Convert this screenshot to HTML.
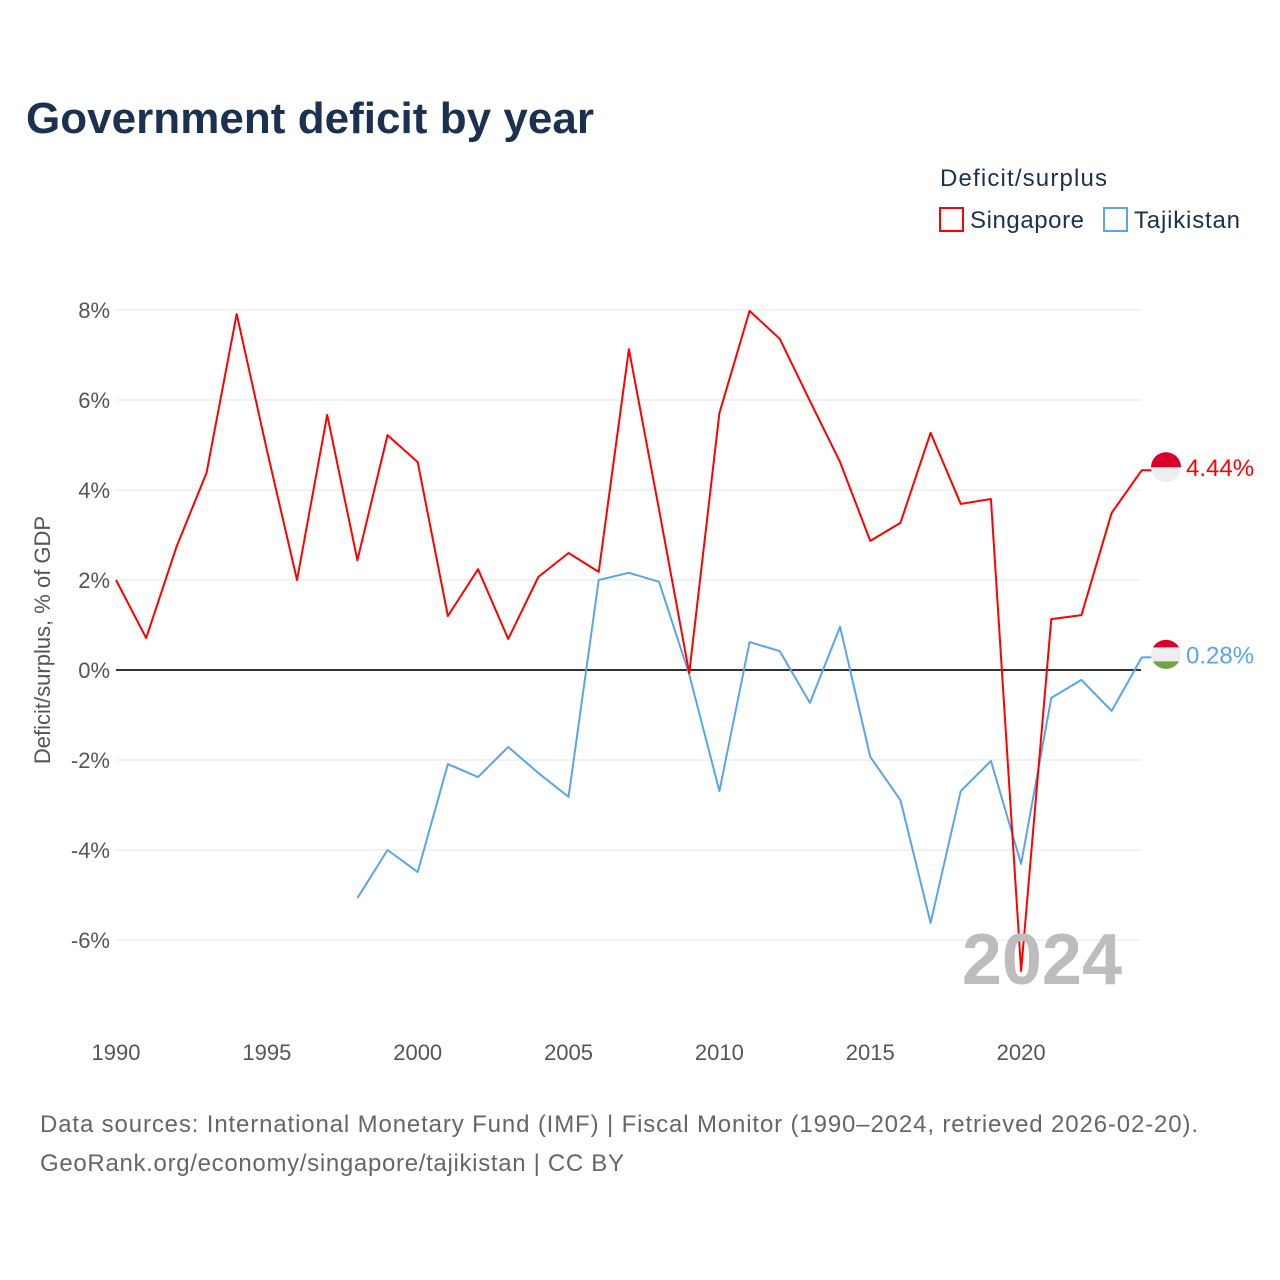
<!DOCTYPE html>
<html><head><meta charset="utf-8"><style>
body{margin:0;background:#fff;font-family:"Liberation Sans",sans-serif;}
#wrap{position:relative;width:1280px;height:1280px;overflow:hidden;}
</style></head><body>
<div id="wrap">
<svg id="chart" width="1280" height="1280">
<text x="26" y="133" font-size="44" font-weight="bold" fill="#1b3151" textLength="568">Government deficit by year</text>
<text x="940" y="186" font-size="24" fill="#1b3151" textLength="167">Deficit/surplus</text>
<g><rect x="940" y="208" width="23" height="23" fill="none" stroke="#f00" stroke-width="2"/><text x="970" y="228" font-size="24" fill="#1b3151" textLength="114">Singapore</text></g>
<g><rect x="1104" y="208" width="23" height="23" fill="none" stroke="#5aa5ea" stroke-width="2"/><text x="1134" y="228" font-size="24" fill="#1b3151" textLength="106">Tajikistan</text></g>
<text transform="translate(50,640) rotate(-90)" text-anchor="middle" font-size="22" fill="#555">Deficit/surplus, % of GDP</text>
<g id="grid"></g><g id="series"></g>
<text x="1122" y="984" text-anchor="end" font-size="72" font-weight="bold" fill="#bdbdbd">2024</text>
<text x="40" y="1132" font-size="24" fill="#666" textLength="1158">Data sources: International Monetary Fund (IMF) | Fiscal Monitor (1990–2024, retrieved 2026-02-20).</text>
<text x="40" y="1171" font-size="24" fill="#666" textLength="584">GeoRank.org/economy/singapore/tajikistan | CC BY</text>
</svg></div>
<script>
const years=[1990,1991,1992,1993,1994,1995,1996,1997,1998,1999,2000,2001,2002,2003,2004,2005,2006,2007,2008,2009,2010,2011,2012,2013,2014,2015,2016,2017,2018,2019,2020,2021,2022,2023,2024];
const singapore=[2.0,0.71,2.73,4.38,7.91,4.89,2.0,5.67,2.44,5.22,4.62,1.2,2.24,0.69,2.07,2.6,2.18,7.13,3.56,-0.07,5.71,7.98,7.36,5.98,4.62,2.87,3.27,5.27,3.69,3.8,-6.69,1.13,1.22,3.49,4.44];
const tajikistan=[null,null,null,null,null,null,null,null,-5.07,-4.0,-4.49,-2.09,-2.38,-1.71,-2.29,-2.82,2.0,2.16,1.96,-0.1,-2.69,0.62,0.42,-0.73,0.96,-1.93,-2.89,-5.62,-2.69,-2.02,-4.31,-0.62,-0.22,-0.91,0.28];
const yTicks=[-6,-4,-2,0,2,4,6,8];
const xTicks=[1990,1995,2000,2005,2010,2015,2020];
const NS="http://www.w3.org/2000/svg";
const X=y=>116+(y-1990)*30.17, Y=v=>670-v*45;
function mk(t,a,p){const e=document.createElementNS(NS,t);for(const k in a)e.setAttribute(k,a[k]);p.appendChild(e);return e;}
const grid=document.getElementById('grid'),ser=document.getElementById('series');
yTicks.forEach(v=>{
 const l=mk('line',{x1:116,x2:1141,y1:Y(v),y2:Y(v),stroke:v===0?'#333':'#e6e6e6','stroke-width':v===0?2:1},grid);
 
 
 const t=mk('text',{x:110,y:Y(v)+8,'text-anchor':'end','font-size':22,fill:'#555'},grid);t.textContent=v+'%';
 
 
});
xTicks.forEach(y=>{
 const t=mk('text',{x:X(y),y:1060,'text-anchor':'middle','font-size':22,fill:'#555'},grid);t.textContent=y;
 
 
});
function line(vals,color,name,label){
 let d='';let last=null;
 vals.forEach((v,i)=>{if(v==null)return;d+=(d?'L':'M')+X(years[i])+','+Y(v);last=[X(years[i]),Y(v)];});
 d+='L'+(last[0]+10)+','+last[1];
 const p=mk('path',{d:d,fill:'none',stroke:color,'stroke-width':2,'stroke-linejoin':'round'},ser);
 
 
 const g=mk('g',{},ser);
 
 
 const cx=1166,cy=last[1]-3;
 mk('circle',{cx:cx,cy:cy,r:15,fill:'#eee'},g);
 if(name==='singapore'){mk('path',{d:`M${cx-15},${cy}A15,15 0 0 1 ${cx+15},${cy}Z`,fill:'#d8002a'},g);}
 else{mk('path',{d:`M${cx-13},${cy-7}A15,15 0 0 1 ${cx+13},${cy-7}Z`,fill:'#d8002a'},g);mk('path',{d:`M${cx-13},${cy+7}A15,15 0 0 0 ${cx+13},${cy+7}Z`,fill:'#6da544'},g);}
 const t=mk('text',{x:1186,y:cy+9,'font-size':24,fill:color},ser);t.textContent=label;
 
 
}
line(tajikistan,'#5aa5ea','tajikistan',tajikistan[tajikistan.length-1].toFixed(2)+'%');
line(singapore,'#ff0000','singapore',singapore[singapore.length-1].toFixed(2)+'%');
</script>
</body></html>
